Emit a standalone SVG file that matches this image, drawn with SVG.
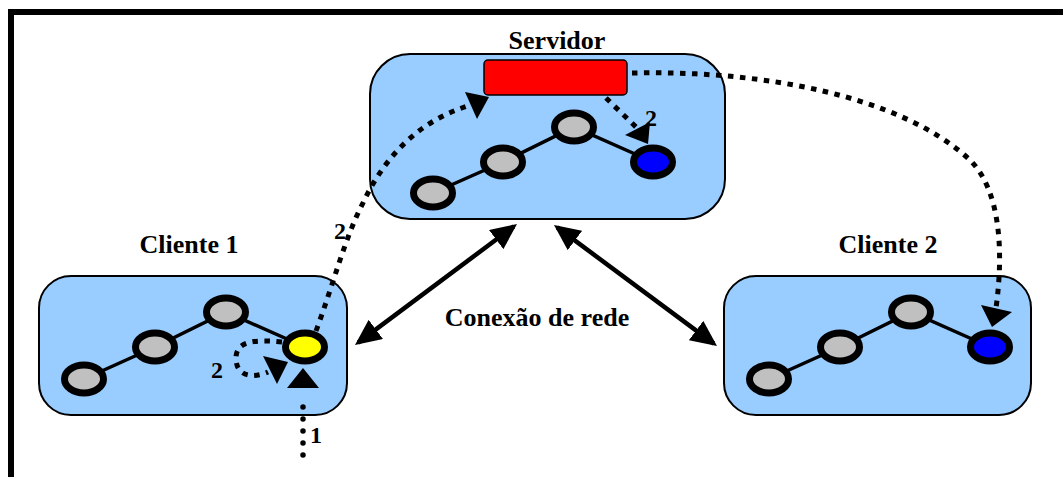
<svg xmlns="http://www.w3.org/2000/svg" width="1063" height="477" viewBox="0 0 1063 477">
<style>
.box{fill:#99CCFF;stroke:#000;stroke-width:2}
.nd{stroke:#000;stroke-width:7}
.gray{fill:#C0C0C0}
.link{stroke:#000;stroke-width:3.5;fill:none}
text{font-family:'Liberation Serif','Times New Roman',Times,serif;font-weight:bold;fill:#000;text-anchor:middle}
.lbl{font-size:26px}
.num{font-size:24px}
.dot{fill:none;stroke:#000;stroke-width:5;stroke-dasharray:5.5 6.5}
.rdot{fill:none;stroke:#000;stroke-width:5.5;stroke-linecap:round;stroke-dasharray:0 12}
.head{fill:#000}
.net{stroke:#000;stroke-width:4.5;fill:none;marker-start:url(#ah);marker-end:url(#ah)}
</style>
<defs>
<marker id="ah" markerUnits="userSpaceOnUse" markerWidth="26" markerHeight="24" refX="22" refY="12" orient="auto-start-reverse" viewBox="0 0 26 24">
<path d="M0,0 L26,12 L0,24 z" fill="#000"/>
</marker>
</defs>
<rect width="1063" height="477" fill="#fff"/>
<g id="frame">
<path d="M8,12 H1063 M11,9 V477" stroke="#000" stroke-width="6" fill="none"/>
</g>
<g id="servidor">
<rect class="box" x="370" y="54" width="355" height="165" rx="40" ry="40"/>
<rect x="484" y="60" width="143" height="35" rx="4" ry="4" fill="#FF0000" stroke="#000" stroke-width="1.5"/>
<path class="link" d="M433,193 L503,162 L574,127 L653,162"/>
<ellipse class="nd gray" cx="433" cy="193" rx="19.5" ry="14"/>
<ellipse class="nd gray" cx="503" cy="162" rx="19.5" ry="14"/>
<ellipse class="nd gray" cx="574" cy="127" rx="19.5" ry="14"/>
<ellipse class="nd" cx="653" cy="162" rx="19.5" ry="14" fill="#0000FF"/>
<text class="lbl" x="557" y="49" font-family="Liberation Serif, serif">Servidor</text>
</g>
<g id="cliente1">
<rect class="box" x="39" y="276" width="308" height="139" rx="32" ry="32"/>
<path class="link" d="M84,379 L155,347 L226,312 L305,347"/>
<ellipse class="nd gray" cx="84" cy="379" rx="19.5" ry="14"/>
<ellipse class="nd gray" cx="155" cy="347" rx="19.5" ry="14"/>
<ellipse class="nd gray" cx="226" cy="312" rx="19.5" ry="14"/>
<ellipse class="nd" cx="305" cy="347" rx="19.5" ry="14" fill="#FFFF00"/>
<text class="lbl" x="189" y="253" font-family="Liberation Serif, serif">Cliente 1</text>
</g>
<g id="cliente2">
<rect class="box" x="724" y="276" width="307" height="139" rx="32" ry="32"/>
<path class="link" d="M769,379 L840,347 L911,312 L990,347"/>
<ellipse class="nd gray" cx="769" cy="379" rx="19.5" ry="14"/>
<ellipse class="nd gray" cx="840" cy="347" rx="19.5" ry="14"/>
<ellipse class="nd gray" cx="911" cy="312" rx="19.5" ry="14"/>
<ellipse class="nd" cx="990" cy="347" rx="19.5" ry="14" fill="#0000FF"/>
<text class="lbl" x="888" y="253" font-family="Liberation Serif, serif">Cliente 2</text>
</g>
<g id="connectors">
<path class="net" d="M358.2,342.6 L513.8,226.4"/>
<path class="net" d="M557.2,227.4 L713.8,343.6"/>
<text class="lbl" x="537" y="326" font-family="Liberation Serif, serif">Conexão de rede</text>
<path class="dot" d="M316,331 C333,285 345,238 362,205 C385,155 420,120 471,105"/>
<polygon class="head" points="465,92 489,97 477,119"/>
<text class="num" x="340" y="239" font-family="Liberation Serif, serif">2</text>
<path class="dot" d="M632,73 C760,70 900,95 970,160 C1000,190 1004,250 996,308"/>
<polygon class="head" points="981,305 1012,312 992,327"/>
<path class="dot" d="M606,98 L636,127"/>
<polygon class="head" points="625,135 650,122 648,144"/>
<text class="num" x="651" y="126" font-family="Liberation Serif, serif">2</text>
<path class="dot" d="M282,342 C252,339 236,342 236,358 C236,378 255,378 268,372"/>
<polygon class="head" points="263,356 288,362 277,384"/>
<text class="num" x="217" y="378" font-family="Liberation Serif, serif">2</text>
<path class="rdot" d="M303,455 L303,395"/>
<polygon class="head" points="287,388 319,388 303,368"/>
<text class="num" x="316" y="443" font-family="Liberation Serif, serif">1</text>
</g>
</svg>
